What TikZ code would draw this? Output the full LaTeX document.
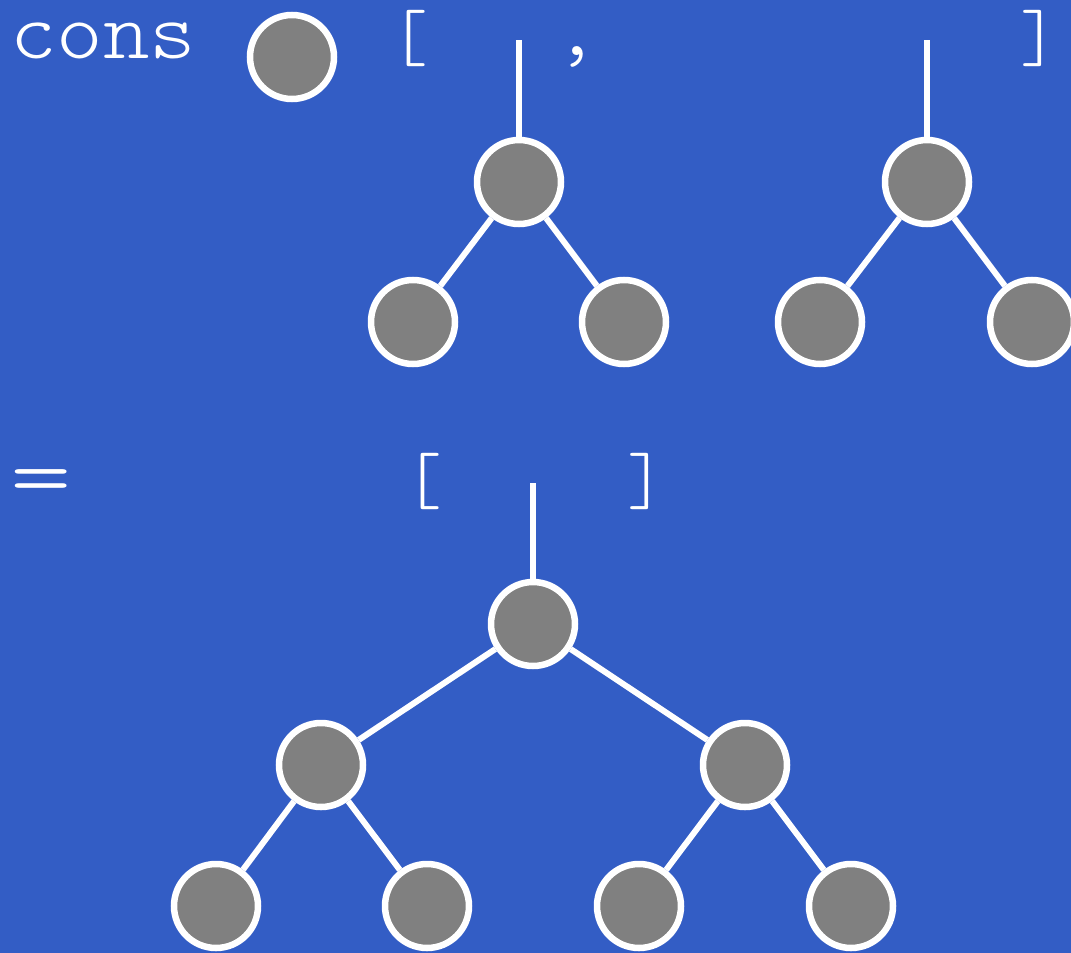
\documentclass[tikz,border=0pt]{standalone}
\usepackage{fontspec}
\usepackage{graphicx}
\newfontfamily\lightmono{Latin Modern Mono Light}
\definecolor{bg}{RGB}{51,93,197}
\definecolor{nodegray}{RGB}{128,128,128}
\begin{document}
\begin{tikzpicture}[x=1pt,y=-1pt,
  tn/.style={circle, draw=white, fill=nodegray, line width=6.5pt, minimum size=84pt, inner sep=0pt},
  edge/.style={draw=white, line width=6pt},
  txt/.style={text=white, font=\lightmono\fontsize{82}{82}\selectfont, inner sep=0pt},
  brk/.style={text=white, font=\lightmono\fontsize{72}{72}\selectfont, inner sep=0pt},
  eqs/.style={text=white, font=\lightmono\fontsize{90}{90}\selectfont, inner sep=0pt}]
\fill[bg] (0,0) rectangle (1071,953);
\useasboundingbox (0,0) rectangle (1071,953);
% text
\node[txt, anchor=base west] (cons) at (10,58) {\scalebox{1.08}[1]{cons}};
\node[brk, anchor=center] (lb1) at (409,38.5) {[};
\node[txt, anchor=center] (comma) at (577,57) {,};
\node[brk, anchor=center] (rb1) at (1039,38.5) {]};
\node[eqs, anchor=base] (eq) at (41,506) {\scalebox{1.3}[1]{=}};
\node[brk, anchor=center] (lb2) at (423,481) {[};
\node[brk, anchor=center] (rb2) at (646,481) {]};
% nodes
\node[tn] (c0) at (292,57) {};
\node[tn] (a) at (519,182) {};
\node[tn] (a1) at (413,322) {};
\node[tn] (a2) at (624,322) {};
\node[tn] (b) at (927,182) {};
\node[tn] (b1) at (820,322) {};
\node[tn] (b2) at (1032,322) {};
\node[tn] (r) at (533,624) {};
\node[tn] (r1) at (321,765) {};
\node[tn] (r2) at (745,765) {};
\node[tn] (r11) at (216,906) {};
\node[tn] (r12) at (427,906) {};
\node[tn] (r21) at (639,906) {};
\node[tn] (r22) at (851,906) {};
\coordinate (sa) at (519,40);
\coordinate (sb) at (927,40);
\coordinate (sr) at (533,483);
% edges
\draw[edge] (sa) -- (a);
\draw[edge] (a) -- (a1);
\draw[edge] (a) -- (a2);
\draw[edge] (sb) -- (b);
\draw[edge] (b) -- (b1);
\draw[edge] (b) -- (b2);
\draw[edge] (sr) -- (r);
\draw[edge] (r) -- (r1);
\draw[edge] (r) -- (r2);
\draw[edge] (r1) -- (r11);
\draw[edge] (r1) -- (r12);
\draw[edge] (r2) -- (r21);
\draw[edge] (r2) -- (r22);
\end{tikzpicture}
\end{document}
